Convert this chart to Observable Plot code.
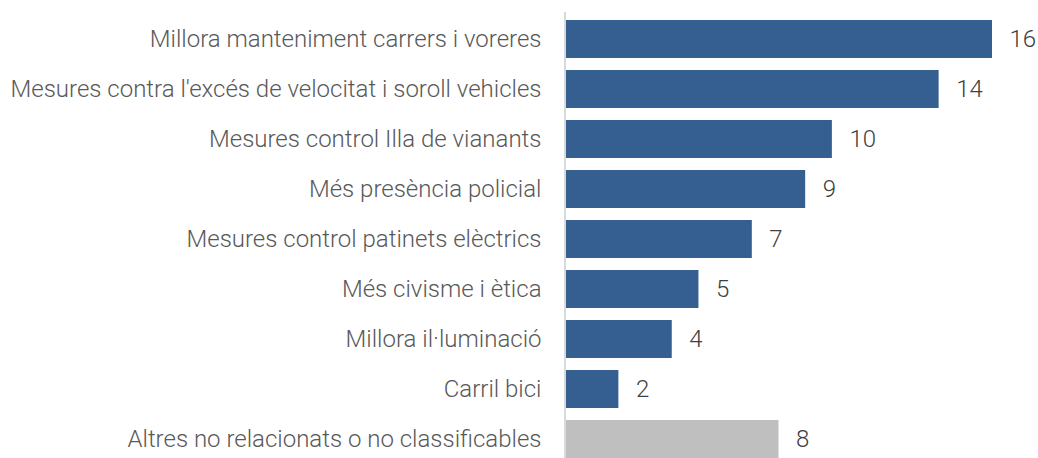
<!DOCTYPE html>
<html>
<head>
<meta charset="utf-8">
<script src="https://cdn.jsdelivr.net/npm/d3@7"></script>
<script src="https://cdn.jsdelivr.net/npm/@observablehq/plot@0.6"></script>
<style>
  html, body { margin: 0; padding: 0; background: #fff; overflow: hidden; }
  #chart svg { display: block; }
</style>
</head>
<body>
<div id="chart"></div>
<script>
const categories = [
  "Millora manteniment carrers i voreres",
  "Mesures contra l'excés de velocitat i soroll vehicles",
  "Mesures control Illa de vianants",
  "Més presència policial",
  "Mesures control patinets elèctrics",
  "Més civisme i ètica",
  "Millora il·luminació",
  "Carril bici",
  "Altres no relacionats o no classificables"
];
const values = [16, 14, 10, 9, 7, 5, 4, 2, 8];
const groups = ["main", "main", "main", "main", "main", "main", "main", "main", "other"];

const data = categories.map((c, i) => ({category: c, value: values[i], group: groups[i]}));

const font = "'Roboto Light', Roboto, 'Liberation Sans', sans-serif";

const chart = Plot.plot({
  width: 1038,
  height: 458,
  marginTop: 12,
  marginBottom: 0,
  marginLeft: 565,
  marginRight: 46,
  style: {fontFamily: font, background: "#fff", overflow: "visible"},
  x: {domain: [0, 16], axis: null},
  y: {domain: categories, range: [5.4, 473.6], padding: 0.235, axis: null},
  color: {domain: ["main", "other"], range: ["#365f91", "#bfbfbf"]},
  marks: [
    Plot.barX(data, {x: "value", y: "category", fill: "group"}),
    Plot.ruleX([0], {stroke: "#d9d9d9", strokeWidth: 2, dx: -0.5}),
    Plot.text(data, {
      x: 0, y: "category", text: "category",
      dx: -24, textAnchor: "end",
      fontSize: 24, fontWeight: 300, fill: "#595959"
    }),
    Plot.text(data, {
      x: "value", y: "category", text: d => String(d.value),
      dx: 17, textAnchor: "start",
      fontSize: 24, fontWeight: 300, fill: "#404040"
    })
  ]
});
document.getElementById("chart").appendChild(chart);
</script>
</body>
</html>
